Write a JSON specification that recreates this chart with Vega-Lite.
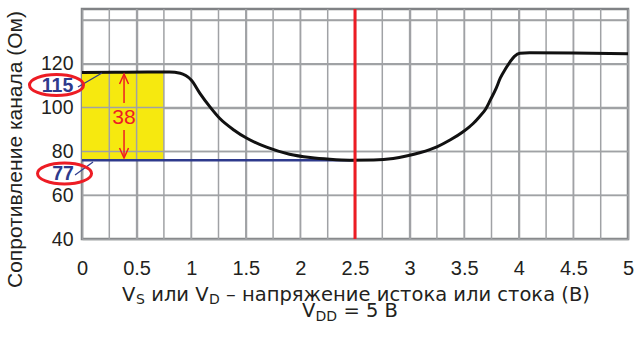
{
  "$schema": "https://vega.github.io/schema/vega-lite/v6.json",
  "width": 546,
  "height": 230,
  "autosize": "none",
  "padding": {"left": 82, "top": 9, "right": 10, "bottom": 100},
  "background": "white",
  "config": {
    "view": {"stroke": "#808285", "strokeWidth": 2.5},
    "font": "Liberation Sans",
    "axis": {"labelFont": "Liberation Sans", "titleFont": "Liberation Sans", "labelColor": "#231f20", "titleColor": "#231f20", "domain": false, "ticks": false, "tickSize": 0, "gridColor": "#a0a2a5", "gridWidth": 1.5, "gridOpacity": 1}
  },
  "datasets": {
    "curve": [
      {"x": 0, "y": 116}, {"x": 0.3, "y": 116.1}, {"x": 0.6, "y": 116.2}, {"x": 0.8, "y": 116.2},
      {"x": 0.9, "y": 115.7}, {"x": 0.95, "y": 114.6}, {"x": 1.0, "y": 112.6}, {"x": 1.08, "y": 106.5},
      {"x": 1.17, "y": 100.4}, {"x": 1.26, "y": 95.1}, {"x": 1.39, "y": 89.8}, {"x": 1.51, "y": 86},
      {"x": 1.69, "y": 81.9}, {"x": 1.9, "y": 78.7}, {"x": 2.09, "y": 77.2}, {"x": 2.27, "y": 76.4},
      {"x": 2.45, "y": 76}, {"x": 2.67, "y": 76.1}, {"x": 2.85, "y": 76.8}, {"x": 2.97, "y": 77.9},
      {"x": 3.1, "y": 79.5}, {"x": 3.25, "y": 82.1}, {"x": 3.37, "y": 85.2}, {"x": 3.49, "y": 89},
      {"x": 3.58, "y": 92.6}, {"x": 3.64, "y": 95.8}, {"x": 3.7, "y": 99.6}, {"x": 3.74, "y": 103.5},
      {"x": 3.79, "y": 108.5}, {"x": 3.83, "y": 113.4}, {"x": 3.88, "y": 117.8}, {"x": 3.92, "y": 120.9},
      {"x": 3.96, "y": 123.4}, {"x": 4.01, "y": 124.8}, {"x": 4.1, "y": 125}, {"x": 4.5, "y": 124.9},
      {"x": 5, "y": 124.6}
    ],
    "band": [{"x": 0, "x2": 0.75, "y": 76, "y2": 116}],
    "blue": [{"x": 0, "x2": 2.5, "y": 76}],
    "red": [{"x": 2.5}],
    "arrowSeg": [{"x": 0.385, "y": 115.3, "y2": 102.1}, {"x": 0.385, "y": 89.8, "y2": 77.2}],
    "tipUp": [{"x": 0.385, "y": 115.3}],
    "tipDown": [{"x": 0.385, "y": 77.0}],
    "lab38": [{"x": 0.385, "y": 95.2, "t": "38"}],
    "leaders": [{"x": -0.037, "y": 109.4, "x2": 0.183, "y2": 115.8}, {"x": -0.064, "y": 69.2, "x2": 0.101, "y2": 75.15}],
    "ellipses": [{"x": -0.2335, "y": 110.3}, {"x": -0.16, "y": 69.9}],
    "blueLab": [{"x": -0.224, "y": 109.8, "t": "115"}, {"x": -0.174, "y": 69.7, "t": "77"}],
    "titleMain": [
      {"x": 0.366, "y": 11.7, "t": "V"},
      {"x": 0.634, "y": 11.7, "t": "или V"},
      {"x": 1.319, "y": 11.7, "t": "– напряжение истока или стока (В)"},
      {"x": 2.015, "y": 4.4, "t": "V"},
      {"x": 2.394, "y": 4.4, "t": "= 5 В"}
    ],
    "titleSub": [
      {"x": 0.4945, "y": 10.3, "t": "S"},
      {"x": 1.163, "y": 10.3, "t": "D"},
      {"x": 2.138, "y": 2.6, "t": "DD"}
    ]
  },
  "layer": [
    {
      "data": {"name": "band"},
      "mark": {"type": "rect", "color": "#f6e90f"},
      "encoding": {
        "x": {"field": "x", "type": "quantitative", "scale": {"domain": [0, 5], "nice": false, "zero": false},
              "axis": {"title": null, "values": [0,0.25,0.5,0.75,1,1.25,1.5,1.75,2,2.25,2.5,2.75,3,3.25,3.5,3.75,4,4.25,4.5,4.75,5], "grid": true,
                       "format": "~g", "labelExpr": "(datum.value*2) % 1 == 0 ? datum.label : ''",
                       "labelFontSize": 20, "labelPadding": 19, "labelFlush": false, "labelOverlap": false}},
        "x2": {"field": "x2"},
        "y": {"field": "y", "type": "quantitative", "scale": {"domain": [40, 145], "nice": false, "zero": false},
              "axis": {"title": "Сопротивление канала (Ом)", "values": [40, 60, 80, 100, 120, 140], "grid": true,
                       "labelExpr": "datum.value == 140 ? '' : datum.label",
                       "labelFontSize": 19.5, "labelPadding": 9,
                       "titleFontSize": 21, "titleFontWeight": "normal", "titleX": -61, "titleY": 140, "titleAngle": -90, "titleAlign": "center", "titleBaseline": "alphabetic"}},
        "y2": {"field": "y2"}
      }
    },
    {
      "data": {"values": [{"gx": 0.25}, {"gx": 0.5}, {"gx": 0.75}, {"gx": 1}, {"gx": 1.25}, {"gx": 1.5}, {"gx": 1.75}, {"gx": 2}, {"gx": 2.25}, {"gx": 2.75}, {"gx": 3}, {"gx": 3.25}, {"gx": 3.5}, {"gx": 3.75}, {"gx": 4}, {"gx": 4.25}, {"gx": 4.5}, {"gx": 4.75}]},
      "mark": {"type": "rule", "color": "#a0a2a5", "strokeWidth": 1.5},
      "encoding": {"x": {"field": "gx", "type": "quantitative"}}
    },
    {
      "data": {"values": [{"gy": 60}, {"gy": 80}, {"gy": 100}, {"gy": 120}, {"gy": 140}]},
      "mark": {"type": "rule", "color": "#a0a2a5", "strokeWidth": 1.5},
      "encoding": {"y": {"field": "gy", "type": "quantitative"}}
    },
    {
      "data": {"name": "blue"},
      "mark": {"type": "rule", "color": "#2e3a8c", "strokeWidth": 2.5},
      "encoding": {"x": {"field": "x", "type": "quantitative"}, "x2": {"field": "x2"}, "y": {"field": "y", "type": "quantitative"}}
    },
    {
      "data": {"name": "curve"},
      "mark": {"type": "line", "color": "#111111", "strokeWidth": 3, "interpolate": "monotone"},
      "encoding": {"x": {"field": "x", "type": "quantitative"}, "y": {"field": "y", "type": "quantitative"}}
    },
    {
      "data": {"name": "red"},
      "mark": {"type": "rule", "color": "#ed1c24", "strokeWidth": 3},
      "encoding": {"x": {"field": "x", "type": "quantitative"}}
    },
    {
      "data": {"name": "arrowSeg"},
      "mark": {"type": "rule", "color": "#ed1c24", "strokeWidth": 1.5},
      "encoding": {"x": {"field": "x", "type": "quantitative"}, "y": {"field": "y", "type": "quantitative"}, "y2": {"field": "y2"}}
    },
    {
      "data": {"name": "tipUp"},
      "mark": {"type": "point", "shape": "M -0.9 2 L 0 0 L 0.9 2", "size": 100, "filled": false, "stroke": "#ed1c24", "strokeWidth": 1.5, "opacity": 1},
      "encoding": {"x": {"field": "x", "type": "quantitative"}, "y": {"field": "y", "type": "quantitative"}}
    },
    {
      "data": {"name": "tipDown"},
      "mark": {"type": "point", "shape": "M -0.9 -2 L 0 0 L 0.9 -2", "size": 100, "filled": false, "stroke": "#ed1c24", "strokeWidth": 1.5, "opacity": 1},
      "encoding": {"x": {"field": "x", "type": "quantitative"}, "y": {"field": "y", "type": "quantitative"}}
    },
    {
      "data": {"name": "lab38"},
      "mark": {"type": "text", "color": "#ed1c24", "fontSize": 21, "align": "center", "baseline": "middle", "font": "Liberation Sans"},
      "encoding": {"x": {"field": "x", "type": "quantitative"}, "y": {"field": "y", "type": "quantitative"}, "text": {"field": "t"}}
    },
    {
      "data": {"name": "leaders"},
      "mark": {"type": "rule", "color": "#2e3a8c", "strokeWidth": 1.2},
      "encoding": {"x": {"field": "x", "type": "quantitative"}, "x2": {"field": "x2"}, "y": {"field": "y", "type": "quantitative"}, "y2": {"field": "y2"}}
    },
    {
      "data": {"name": "ellipses"},
      "mark": {"type": "point", "shape": "M -1 0 A 1 0.39 0 1 1 1 0 A 1 0.39 0 1 1 -1 0 Z", "size": 2916, "filled": false, "stroke": "#ed1c24", "strokeWidth": 3, "opacity": 1},
      "encoding": {"x": {"field": "x", "type": "quantitative"}, "y": {"field": "y", "type": "quantitative"}}
    },
    {
      "data": {"name": "blueLab"},
      "mark": {"type": "text", "color": "#2e3a8c", "fontSize": 19.5, "fontWeight": "bold", "align": "center", "baseline": "middle", "font": "Liberation Sans"},
      "encoding": {"x": {"field": "x", "type": "quantitative"}, "y": {"field": "y", "type": "quantitative"}, "text": {"field": "t"}}
    },
    {
      "data": {"name": "titleMain"},
      "mark": {"type": "text", "color": "#231f20", "fontSize": 19.5, "align": "left", "baseline": "alphabetic", "font": "DejaVu Sans"},
      "encoding": {"x": {"field": "x", "type": "quantitative"}, "y": {"field": "y", "type": "quantitative"}, "text": {"field": "t"}}
    },
    {
      "data": {"name": "titleSub"},
      "mark": {"type": "text", "color": "#231f20", "fontSize": 14, "align": "left", "baseline": "alphabetic", "font": "DejaVu Sans"},
      "encoding": {"x": {"field": "x", "type": "quantitative"}, "y": {"field": "y", "type": "quantitative"}, "text": {"field": "t"}}
    }
  ]
}
